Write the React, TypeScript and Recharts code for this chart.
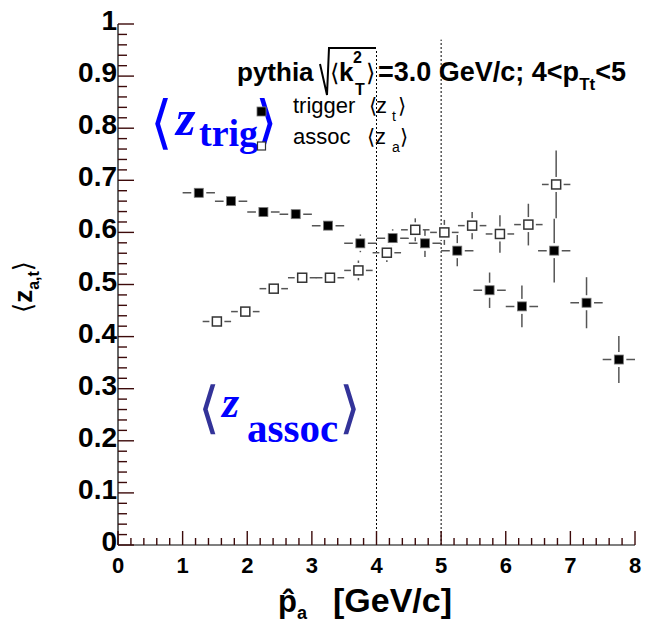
import React from "react";
import { ComposedChart, Scatter, XAxis, YAxis, ErrorBar, ReferenceLine } from "recharts";

// trigger <z_t> (filled squares), bins of 0.5 GeV/c
const trigPa = [1.25, 1.75, 2.25, 2.75, 3.25, 3.75, 4.25, 4.75, 5.25, 5.75, 6.25, 6.75, 7.25, 7.75];
const trigZ = [0.676, 0.660, 0.639, 0.635, 0.613, 0.579, 0.589, 0.579, 0.565, 0.489, 0.458, 0.565, 0.465, 0.356];
const trigErr = [0.004, 0.004, 0.004, 0.004, 0.005, 0.017, 0.017, 0.026, 0.030, 0.034, 0.040, 0.061, 0.049, 0.045];
const trigHalfBin = [0.25, 0.25, 0.25, 0.25, 0.25, 0.25, 0.25, 0.25, 0.25, 0.25, 0.25, 0.25, 0.25, 0.25];

// assoc <z_a> (open squares)
const assocPa = [1.53, 1.97, 2.41, 2.85, 3.28, 3.72, 4.16, 4.6, 5.05, 5.48, 5.91, 6.35, 6.78];
const assocZ = [0.429, 0.448, 0.492, 0.513, 0.513, 0.527, 0.561, 0.605, 0.6, 0.613, 0.597, 0.615, 0.692];
const assocErr = [0.004, 0.004, 0.004, 0.004, 0.005, 0.019, 0.018, 0.022, 0.024, 0.026, 0.036, 0.04, 0.065];
const assocHalfBin = [0.22, 0.22, 0.22, 0.22, 0.22, 0.22, 0.22, 0.22, 0.22, 0.22, 0.22, 0.22, 0.22];

// axis ticks
const xMajor = [0, 1, 2, 3, 4, 5, 6, 7, 8];
const yMajor = [0, 0.1, 0.2, 0.3, 0.4, 0.5, 0.6, 0.7, 0.8, 0.9, 1];
const xTicks = Array.from({ length: 41 }, (_, i) => Number((i * 0.2).toFixed(1)));
const yTicks = Array.from({ length: 51 }, (_, i) => Number((i * 0.02).toFixed(2)));

// trigger window p_T cuts, drawn as dotted lines
const cutLines = [
  { x: 4, top: 0.95 },
  { x: 5, top: 0.97 },
];

const trigData = trigPa.map((x, i) => ({ x, z: trigZ[i], ez: trigErr[i], ex: trigHalfBin[i] }));
const assocData = assocPa.map((x, i) => ({ x, z: assocZ[i], ez: assocErr[i], ex: assocHalfBin[i] }));

const SANS = "'Liberation Sans', Arial, Helvetica, sans-serif";
const SERIF = "'Liberation Serif', 'Times New Roman', serif";
const BRACKET = "'DejaVu Sans', sans-serif";
const BRACKET_SERIF = "'DejaVu Serif', serif";
const TICK = "#3c0a0a";
const TW = 1.4;

const isMajorX = (v: number) => xMajor.includes(v);
const isMajorY = (v: number) => yMajor.some((m) => Math.abs(m - v) < 1e-6);
const fmtY = (v: number) => (v === 0 ? "0" : v === 1 ? "1" : v.toFixed(1));

// tick marks point into the frame, ROOT style
const BottomTick = (props: any) => {
  const { x, y, payload } = props;
  const v = payload.value;
  const major = isMajorX(v);
  return (
    <g>
      <path d={`M${x},${y}v${major ? -14 : -7}`} stroke={TICK} strokeWidth={TW} fill="none" />
      {major && (
        <text x={x} y={y + 28} textAnchor="middle" fontFamily={SANS} fontWeight="bold" fontSize={22} fill="#000">
          {v}
        </text>
      )}
    </g>
  );
};

const TopTick = (props: any) => {
  const { x, y, payload } = props;
  const major = isMajorX(payload.value);
  return <path d={`M${x},${y}v${major ? 15 : 8}`} stroke={TICK} strokeWidth={TW} fill="none" />;
};

const LeftTick = (props: any) => {
  const { x, y, payload } = props;
  const v = payload.value;
  const major = isMajorY(v);
  return (
    <g>
      <path d={`M${x},${y}h${major ? 16 : 9}`} stroke={TICK} strokeWidth={TW} fill="none" />
      {major && (
        <text x={x - 1} y={y + 6} textAnchor="end" fontFamily={SANS} fontWeight="bold" fontSize={28} fill="#000">
          {fmtY(v)}
        </text>
      )}
    </g>
  );
};

const RightTick = (props: any) => {
  const { x, y, payload } = props;
  const major = isMajorY(payload.value);
  return <path d={`M${x},${y}h${major ? -16 : -9}`} stroke={TICK} strokeWidth={TW} fill="none" />;
};

const FilledMarker = (p: any) => (
  <g>
    <rect x={p.cx - 7.5} y={p.cy - 7.5} width={15} height={15} fill="#fff" />
    <rect x={p.cx - 4.5} y={p.cy - 4.5} width={9} height={9} fill="#000" stroke="#777" strokeWidth={0.8} />
  </g>
);

const OpenMarker = (p: any) => (
  <g>
    <rect x={p.cx - 7.5} y={p.cy - 7.5} width={15} height={15} fill="#fff" />
    <rect x={p.cx - 4.5} y={p.cy - 4.5} width={9} height={9} fill="#fff" stroke="#333" strokeWidth={1.5} />
  </g>
);

export default function App() {
  return (
    <div style={{ position: "absolute", left: 0, top: 0, width: 648, height: 625, background: "#fff" }}>
      <ComposedChart width={648} height={625} margin={{ top: 24, right: 13, bottom: 0, left: 0 }}>
        <XAxis xAxisId="b" type="number" dataKey="x" domain={[0, 8]} allowDataOverflow ticks={xTicks} interval={0}
          tickSize={0} tickMargin={0} tickLine={false} tick={<BottomTick />} height={80}
          axisLine={{ stroke: "#000", strokeWidth: 1.2 }} />
        <XAxis xAxisId="t" orientation="top" type="number" dataKey="x" domain={[0, 8]} allowDataOverflow ticks={xTicks}
          interval={0} tickSize={0} tickMargin={0} tickLine={false} tick={<TopTick />} height={0}
          axisLine={{ stroke: "#000", strokeWidth: 1.2 }} />
        <YAxis yAxisId="l" type="number" dataKey="z" domain={[0, 1]} allowDataOverflow ticks={yTicks} interval={0}
          tickSize={0} tickMargin={0} tickLine={false} tick={<LeftTick />} width={118}
          axisLine={{ stroke: "#000", strokeWidth: 1.2 }} />
        <YAxis yAxisId="r" orientation="right" type="number" dataKey="z" domain={[0, 1]} allowDataOverflow ticks={yTicks}
          interval={0} tickSize={0} tickMargin={0} tickLine={false} tick={<RightTick />} width={0}
          axisLine={{ stroke: "#000", strokeWidth: 1.2 }} />

        {cutLines.map((c) => (
          <ReferenceLine
            key={c.x}
            xAxisId="b"
            yAxisId="l"
            segment={[
              { x: c.x, y: 0 },
              { x: c.x, y: c.top },
            ]}
            stroke="#000"
            strokeWidth={1}
            strokeDasharray="2 2"
          />
        ))}

        <Scatter data={assocData} xAxisId="b" yAxisId="l" dataKey="z" shape={OpenMarker} isAnimationActive={false}>
          <ErrorBar dataKey="ez" direction="y" width={0} stroke="#555" strokeWidth={1.5} isAnimationActive={false} />
          <ErrorBar dataKey="ex" direction="x" width={0} stroke="#555" strokeWidth={1.5} isAnimationActive={false} />
        </Scatter>
        <Scatter data={trigData} xAxisId="b" yAxisId="l" dataKey="z" shape={FilledMarker} isAnimationActive={false}>
          <ErrorBar dataKey="ez" direction="y" width={0} stroke="#555" strokeWidth={1.5} isAnimationActive={false} />
          <ErrorBar dataKey="ex" direction="x" width={0} stroke="#555" strokeWidth={1.5} isAnimationActive={false} />
        </Scatter>
      </ComposedChart>

      <svg width={648} height={625} style={{ position: "absolute", left: 0, top: 0, pointerEvents: "none" }}>
        {/* big blue labels */}
        <text x={150} y={142} fontFamily={BRACKET_SERIF} fontSize={58} fill="#0000ff">⟨</text>
        <text x={176} y={135} fontFamily={SERIF} fontStyle="italic" fontWeight="bold" fontSize={50} fill="#0000ff">z</text>
        <text x={199} y={146} fontFamily={SERIF} fontWeight="bold" fontSize={38} fill="#0000ff">trig</text>
        <text x={255} y={142} fontFamily={BRACKET_SERIF} fontSize={58} fill="#0000ff">⟩</text>

        <text x={198} y={427} fontFamily={BRACKET_SERIF} fontSize={56} fill="#333399">⟨</text>
        <text x={222} y={417} fontFamily={SERIF} fontStyle="italic" fontWeight="bold" fontSize={44} fill="#0000ff">z</text>
        <text x={247} y={442} fontFamily={SERIF} fontWeight="bold" fontSize={41} fill="#0000ff">assoc</text>
        <text x={339} y={427} fontFamily={BRACKET_SERIF} fontSize={56} fill="#333399">⟩</text>

        {/* header */}
        <text x={237} y={81} fontFamily={SANS} fontWeight="bold" fontSize={26} fill="#000">pythia</text>
        <path d="M320,64 L327,95 L329,48 L376,48" fill="none" stroke="#000" strokeWidth={2} />
        <text x={330} y={81} fontFamily={BRACKET} fontSize={24} fill="#000">⟨</text>
        <text x={339} y={81} fontFamily={SANS} fontWeight="bold" fontSize={26} fill="#000">k</text>
        <text x={353} y={63} fontFamily={SANS} fontWeight="bold" fontSize={16} fill="#000">2</text>
        <text x={355} y={95} fontFamily={SANS} fontWeight="bold" fontSize={16} fill="#000">T</text>
        <text x={366} y={81} fontFamily={BRACKET} fontSize={24} fill="#000">⟩</text>
        <text x={378} y={81} fontFamily={SANS} fontWeight="bold" fontSize={27} fill="#000">
          =3.0 GeV/c; 4&lt;p
          <tspan dy={9} fontSize={17}>Tt</tspan>
          <tspan dy={-9}>&lt;5</tspan>
        </text>

        {/* legend */}
        <rect x={257} y={107} width={9} height={9} fill="#000" stroke="#777" strokeWidth={0.8} />
        <rect x={257.5} y={142} width={8} height={8} fill="#fff" stroke="#333" strokeWidth={1.2} />
        <text x={293} y={113} fontFamily={SANS} fontSize={22} fill="#000">trigger</text>
        <text x={369} y={113} fontFamily={BRACKET} fontSize={21} fill="#000">⟨</text>
        <text x={376} y={113} fontFamily={SANS} fontSize={22} fill="#000">z</text>
        <text x={392} y={121} fontFamily={SANS} fontSize={14} fill="#000">t</text>
        <text x={398} y={113} fontFamily={BRACKET} fontSize={21} fill="#000">⟩</text>
        <text x={293} y={144} fontFamily={SANS} fontSize={22} fill="#000">assoc</text>
        <text x={367} y={144} fontFamily={BRACKET} fontSize={21} fill="#000">⟨</text>
        <text x={375} y={144} fontFamily={SANS} fontSize={22} fill="#000">z</text>
        <text x={392} y={152} fontFamily={SANS} fontSize={14} fill="#000">a</text>
        <text x={400} y={144} fontFamily={BRACKET} fontSize={21} fill="#000">⟩</text>

        {/* y title */}
        <text transform="translate(32,313) rotate(-90)" fontFamily={SANS} fontWeight="bold" fontSize={26} fill="#000">
          <tspan fontFamily={BRACKET} fontWeight="normal">⟨</tspan>
          <tspan>z</tspan>
          <tspan dy={7} fontSize={16}>a,t</tspan>
          <tspan dy={-7} fontFamily={BRACKET} fontWeight="normal">⟩</tspan>
        </text>

        {/* x title */}
        <text x={278} y={612} fontFamily={SANS} fontWeight="bold" fontSize={31} fill="#000">
          p̂
          <tspan dy={7} fontSize={18}>a</tspan>
        </text>
        <text x={333} y={612} fontFamily={SANS} fontWeight="bold" fontSize={34} fill="#000">[GeV/c]</text>
      </svg>
    </div>
  );
}
